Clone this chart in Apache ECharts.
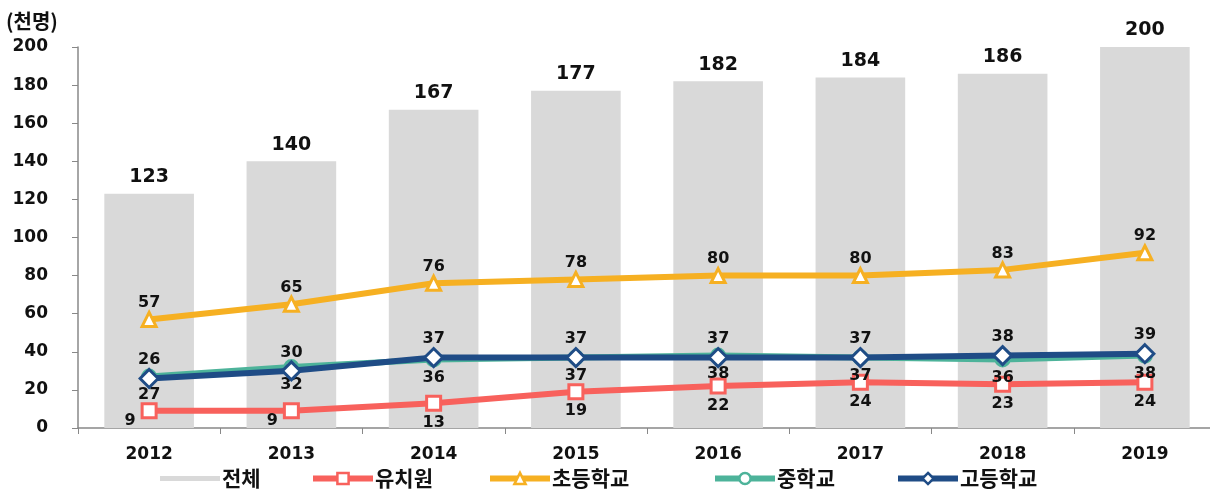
<!DOCTYPE html>
<html>
<head>
<meta charset="utf-8">
<script src="https://cdn.jsdelivr.net/npm/echarts@6/dist/echarts.min.js"></script>
<style>
  html, body { margin: 0; padding: 0; background: #fff; }
  #chart { width: 1210px; height: 491px; }
</style>
</head>
<body>
<div id="chart"></div>
<script>
const years = ["2012", "2013", "2014", "2015", "2016", "2017", "2018", "2019"];
const total = [123, 140, 167, 177, 182, 184, 186, 200];
const kinder = [9, 9, 13, 19, 22, 24, 23, 24];
const elementary = [57, 65, 76, 78, 80, 80, 83, 92];
const middle = [27, 32, 36, 37, 38, 37, 36, 38];
const high = [26, 30, 37, 37, 37, 37, 38, 39];

const numFont = "DejaVu Sans";
const krFont = "Noto Sans CJK KR";

const chart = echarts.init(document.getElementById("chart"));

// line series with white-filled markers and plain labels
const lineSeries = (name, data, color, symbol, symbolSize, labelPos, distance, z) => ({
  name,
  type: "line",
  data,
  z,
  symbol,
  symbolSize,
  lineStyle: { color, width: 6 },
  itemStyle: { color: "#fff", borderColor: color, borderWidth: 3 },
  label: {
    show: true,
    position: labelPos,
    distance,
    color: "#111",
    fontFamily: numFont,
    fontWeight: "bold",
    fontSize: 16
  }
});

// small values sit left of the marker, as in the source
const kinderData = kinder.map((v, i) =>
  i < 2 ? { value: v, label: { position: "left", offset: [-2, 10] } } : v
);

const legendBase = {
  bottom: -3,
  itemWidth: 60,
  itemHeight: 14,
  itemGap: 0,
  lineStyle: { width: 6 },
  itemStyle: { borderWidth: 2.5 },
  textStyle: { fontFamily: krFont, fontSize: 21, fontWeight: "bold", color: "#111", padding: [0, 0, 0, -3] }
};
const legendAt = (left, item) => Object.assign({}, legendBase, { left, data: [item] });

const option = {
  animation: false,
  textStyle: { fontFamily: numFont },
  graphic: [
    {
      type: "text",
      left: 6,
      top: 11,
      style: { text: "(천명)", fontFamily: krFont, fontWeight: "bold", fontSize: 20, fill: "#111" }
    }
  ],
  grid: { left: 78, top: 47, width: 1138, height: 381, outerBoundsMode: "none" },
  legend: [
    legendAt(155, { name: "전체", icon: "path://M0,0M60,14M0,4.5L60,4.5L60,9.5L0,9.5Z", itemStyle: { color: "#d9d9d9" } }),
    legendAt(305, "유치원"),
    legendAt(482, "초등학교"),
    legendAt(707, "중학교"),
    legendAt(890, "고등학교")
  ],
  xAxis: {
    type: "category",
    data: years,
    axisLine: { lineStyle: { color: "#888", width: 1.5 } },
    axisTick: { show: true, length: 6, lineStyle: { color: "#888" } },
    axisLabel: { color: "#111", fontWeight: "bold", fontSize: 17, margin: 18, fontFamily: numFont }
  },
  yAxis: {
    type: "value",
    min: 0,
    max: 200,
    interval: 20,
    splitLine: { show: false },
    axisLine: { show: true, lineStyle: { color: "#888", width: 1.5 } },
    axisTick: { show: true, length: 6, lineStyle: { color: "#888" } },
    axisLabel: {
      inside: false,
      align: "right",
      color: "#111",
      fontWeight: "bold",
      fontSize: 17,
      margin: 30,
      fontFamily: numFont
    }
  },
  series: [
    {
      name: "전체",
      type: "bar",
      data: total,
      barWidth: "63%",
      itemStyle: { color: "#d9d9d9" },
      label: {
        show: true,
        position: "top",
        distance: 7,
        color: "#111",
        fontWeight: "bold",
        fontSize: 19,
        fontFamily: numFont
      },
      z: 1
    },
    lineSeries("유치원", kinderData, "#f8615c", "rect", 14, "bottom", 3, 3),
    lineSeries("초등학교", elementary, "#f6b022", "triangle", 14, "top", 0, 3),
    lineSeries("중학교", middle, "#4db39a", "circle", 13, "bottom", 2, 3),
    lineSeries("고등학교", high, "#1f4c86", "diamond", 18, "top", 0, 4)
  ]
};

chart.setOption(option);
</script>
</body>
</html>
